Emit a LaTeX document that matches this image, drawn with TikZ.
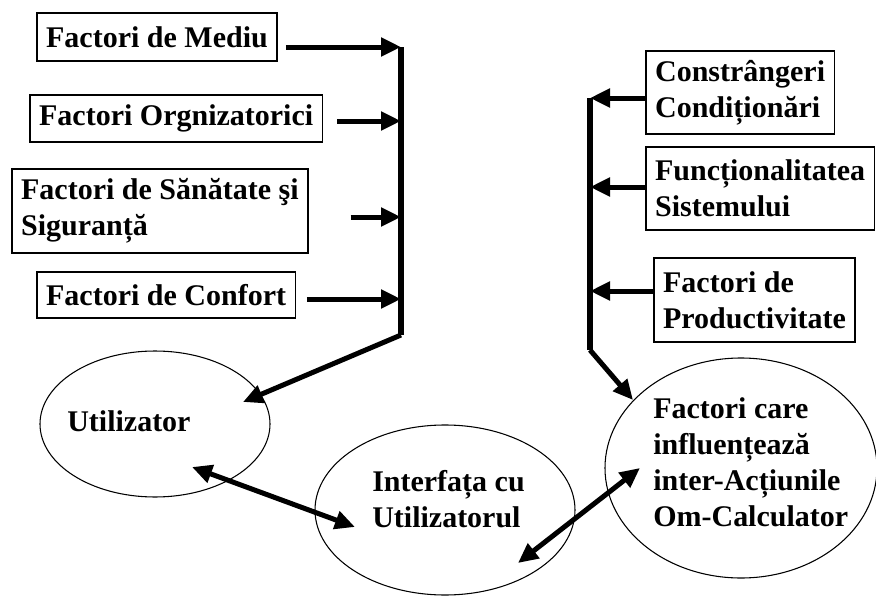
\documentclass[tikz,border=0pt]{standalone}
\usepackage{fontspec}
\setmainfont{Liberation Serif}
\usetikzlibrary{arrows.meta,shapes.geometric}

\begin{document}
\begin{tikzpicture}[x=0.75pt,y=-0.75pt,
        every node/.style={font=\bfseries\fontsize{22.5}{27}\selectfont},
        >={Triangle[length=15pt,width=13.5pt]},
        cutie/.style={draw,line width=1.2pt,anchor=west,align=left,inner xsep=7pt,inner ysep=0pt},
        elipsa/.style={draw,ellipse,line width=0.8pt,inner sep=0pt},
        eticheta/.style={anchor=north west,align=left,inner sep=0pt},
        sageata/.style={line width=3.75pt,->},
        dubla/.style={line width=3.75pt,<->},
        bara/.style={line width=4.5pt}]
        \useasboundingbox (0,0) rectangle (876,596);

        % Factori din stanga
        \node[cutie,minimum height=36pt] (mediu) at (36,37) {Factori de Mediu};
        \node[cutie,minimum height=35.25pt] (org) at (29,118.5) {Factori Orgnizatorici};
        \node[cutie,minimum height=63pt] (sanatate) at (11,211) {Factori de Sănătate şi\\Siguranță};
        \node[cutie,minimum height=34.5pt] (confort) at (36,295) {Factori de Confort};

        % Factori din dreapta
        \node[cutie,minimum height=62.25pt] (constr) at (645,92.5) {Constrângeri\\Condiționări};
        \node[cutie,minimum height=62.25pt] (functie) at (645,188.5) {Funcționalitatea\\Sistemului};
        \node[cutie,minimum height=63pt] (product) at (653,300) {Factori de\\Productivitate};

        % Elipsele
        \node[elipsa,minimum width=172.5pt,minimum height=109.5pt] (util) at (155,424) {};
        \node[elipsa,minimum width=195pt,minimum height=127.5pt] (interf) at (445,510) {};
        \node[elipsa,minimum width=204pt,minimum height=165pt] (factori) at (741,468) {};
        \node[eticheta] (utiltext) at (67,410) {Utilizator};
        \node[eticheta] (interftext) at (372,470) {Interfața cu\\Utilizatorul};
        \node[eticheta] (factoritext) at (653,397) {Factori care\\influențează\\inter-Acțiunile\\Om-Calculator};

        % Bara din stanga
        \coordinate (l1) at (401,47);
        \coordinate (l2) at (401,121);
        \coordinate (l3) at (401,217);
        \coordinate (l4) at (401,299);
        \coordinate (lbot) at (401,335);
        \coordinate (utip) at (243,402);
        \draw[bara] (l1) -- (lbot);
        \draw[sageata,shorten <=6pt] (mediu.east |- l1) -- (l1);
        \draw[sageata,shorten <=10.5pt] (org.east |- l2) -- (l2);
        \draw[sageata,shorten <=31.5pt] (sanatate.east |- l3) -- (l3);
        \draw[sageata,shorten <=8pt] (confort.east |- l4) -- (l4);
        \draw[sageata] (lbot) -- (utip);

        % Bara din dreapta
        \coordinate (r1) at (590,98);
        \coordinate (r2) at (590,187);
        \coordinate (r3) at (590,291);
        \coordinate (rbot) at (590,350);
        \coordinate (ftip) at (633,400);
        \draw[bara] (r1) -- (rbot);
        \draw[sageata] (constr.west |- r1) -- (r1);
        \draw[sageata] (functie.west |- r2) -- (r2);
        \draw[sageata] (product.west |- r3) -- (r3);
        \draw[sageata] (rbot) -- (ftip);

        % Legaturi intre elipse
        \coordinate (a1) at (192,467);
        \coordinate (a2) at (355,527);
        \coordinate (b1) at (518,563);
        \coordinate (b2) at (640,468);
        \draw[dubla] (a1) -- (a2);
        \draw[dubla] (b1) -- (b2);
    \end{tikzpicture}
\end{document}
